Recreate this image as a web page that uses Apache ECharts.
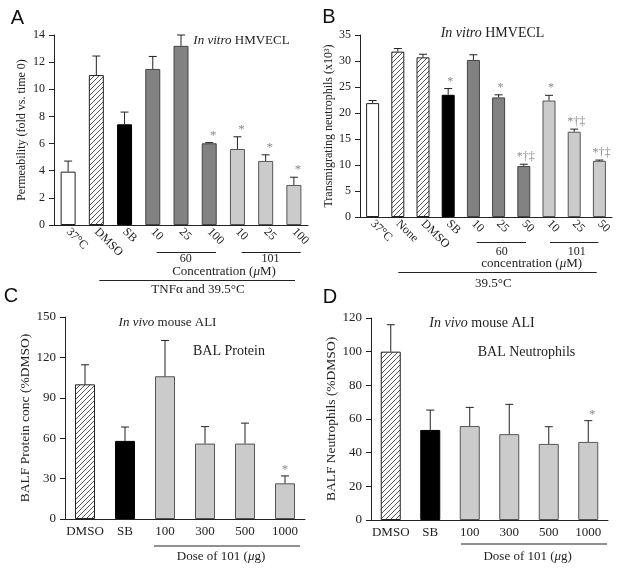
<!DOCTYPE html>
<html>
<head>
<meta charset="utf-8">
<script src="https://cdn.jsdelivr.net/npm/echarts@6/dist/echarts.min.js"></script>
<style>html,body{margin:0;padding:0;background:#fff;}#c{width:622px;height:573px;}</style>
</head>
<body>
<div id="c"></div>
<script>
// ---------- DATA ----------
const catsA = ['37°C', 'DMSO', 'SB', '10', '25', '100', '10', '25', '100'];
const valsA = [3.93, 11.05, 7.42, 11.5, 13.2, 6.02, 5.6, 4.72, 2.95];
const errA  = [0.78, 1.4, 0.9, 0.92, 0.8, 0.05, 0.9, 0.45, 0.57];
const marksA = ['', '', '', '', '', '*', '*', '*', '*'];

const catsB = ['37°C', 'None', 'DMSO', 'SB', '10', '25', '50', '10', '25', '50'];
const valsB = [21.9, 31.8, 30.7, 23.5, 30.2, 23.0, 9.8, 22.4, 16.4, 10.8];
const errB  = [0.5, 0.6, 0.6, 1.2, 1.0, 0.5, 0.35, 1.0, 0.5, 0.15];
const marksB = ['', '', '', '*', '', '*', '*†‡', '*', '*†‡', '*†‡'];

const catsC = ['DMSO', 'SB', '100', '300', '500', '1000'];
const valsC = [100, 58, 106, 56, 56, 26.5];
const errC  = [14.5, 10.3, 26.6, 12.6, 15.2, 5.5];
const marksC = ['', '', '', '', '', '*'];

const catsD = ['DMSO', 'SB', '100', '300', '500', '1000'];
const valsD = [100, 53.5, 55.8, 51, 45.2, 46.4];
const errD  = [16, 11.8, 11.1, 17.7, 10.2, 12.6];
const marksD = ['', '', '', '', '', '*'];

const ticksA = {min: 0, max: 14, interval: 2};
const ticksB = {min: 0, max: 35, interval: 5};
const ticksC = {min: 0, max: 150, interval: 30};
const ticksD = {min: 0, max: 120, interval: 20};

// ---------- STYLE ----------
const SERIF = '"Liberation Serif", "DejaVu Serif", serif';
const SANS = '"Liberation Sans", Arial, sans-serif';

function makeHatch() {
  const s = 5;
  const cv = document.createElement('canvas');
  cv.width = s; cv.height = s;
  const g = cv.getContext('2d');
  g.fillStyle = '#fff'; g.fillRect(0, 0, s, s);
  g.strokeStyle = '#444'; g.lineWidth = 0.9;
  g.beginPath();
  g.moveTo(-1, s + 1); g.lineTo(s + 1, -1);
  g.moveTo(-1, 1); g.lineTo(1, -1);
  g.moveTo(s - 1, s + 1); g.lineTo(s + 1, s - 1);
  g.stroke();
  return cv;
}
const hatch = {image: makeHatch(), repeat: 'repeat'};
const fills = {
  white: {color: '#ffffff', borderColor: '#222', borderWidth: 1},
  hatch: {color: hatch, borderColor: '#222', borderWidth: 1},
  black: {color: '#000000', borderColor: '#000', borderWidth: 1},
  dark:  {color: '#828282', borderColor: '#444', borderWidth: 1},
  light: {color: '#cbcbcb', borderColor: '#555', borderWidth: 1}
};
const kindsA = ['white', 'hatch', 'black', 'dark', 'dark', 'dark', 'light', 'light', 'light'];
const kindsB = ['white', 'hatch', 'hatch', 'black', 'dark', 'dark', 'dark', 'light', 'light', 'light'];
const kindsC = ['hatch', 'black', 'light', 'light', 'light', 'light'];
const kindsD = kindsC;

const grids = [
  {left: 54, top: 35, width: 254, height: 190},
  {left: 360, top: 35, width: 252, height: 182},
  {left: 65, top: 317, width: 240, height: 202},
  {left: 371, top: 318, width: 237, height: 202}
];

const panels = [
  {cats: catsA, vals: valsA, err: errA, marks: marksA, kinds: kindsA, ticks: ticksA, name: 'Permeability (fold vs. time 0)', nameGap: 26, nameSize: 12, labelSize: 12, rotate: -45, catSize: 12, barWidth: 15, cap: 4, markSize: 13, markDx: 4, markDy: -1},
  {cats: catsB, vals: valsB, err: errB, marks: marksB, kinds: kindsB, ticks: ticksB, name: 'Transmigrating neutrophils (x10³)', nameGap: 22, nameSize: 12, labelSize: 12, rotate: -45, catSize: 12, barWidth: 13, cap: 4, markSize: 12, markDx: 2, markDy: -1},
  {cats: catsC, vals: valsC, err: errC, marks: marksC, kinds: kindsC, ticks: ticksC, name: 'BALF Protein conc (%DMSO)', nameGap: 21, nameSize: 13.5, labelSize: 13, rotate: 0, catSize: 13, barWidth: 20, cap: 4, markSize: 13, markDx: 0, markDy: 0},
  {cats: catsD, vals: valsD, err: errD, marks: marksD, kinds: kindsD, ticks: ticksD, name: 'BALF Neutrophils (%DMSO)', nameGap: 21, nameSize: 13.5, labelSize: 13, rotate: 0, catSize: 13, barWidth: 20, cap: 4, markSize: 13, markDx: 4, markDy: 0}
];

const xAxes = [], yAxes = [], series = [];
panels.forEach((p, k) => {
  xAxes.push({
    type: 'category', gridIndex: k,
    data: p.cats.map((c, i) => i + '|' + c),
    axisLine: {show: true, lineStyle: {color: '#222', width: 1}},
    axisTick: {show: false},
    axisLabel: {
      interval: 0, rotate: p.rotate, margin: p.rotate ? 5 : 6,
      fontFamily: SERIF, fontSize: p.catSize, color: '#222',
      formatter: v => v.split('|')[1]
    }
  });
  yAxes.push({
    type: 'value', gridIndex: k,
    min: p.ticks.min, max: p.ticks.max, interval: p.ticks.interval,
    axisLine: {show: true, lineStyle: {color: '#222', width: 1}},
    axisTick: {show: true, length: 5, lineStyle: {color: '#222'}},
    splitLine: {show: false},
    axisLabel: {margin: 9, fontFamily: SERIF, fontSize: p.labelSize, color: '#222'},
    name: p.name, nameLocation: 'middle', nameGap: p.nameGap,
    nameTextStyle: {fontFamily: SERIF, fontSize: p.nameSize, color: '#222'}
  });
  series.push({
    type: 'bar', xAxisIndex: k, yAxisIndex: k,
    barWidth: p.barWidth,
    data: p.vals.map((v, i) => ({value: v, itemStyle: fills[p.kinds[i]]})),
    z: 2
  });
  series.push({
    type: 'custom', xAxisIndex: k, yAxisIndex: k, clip: false, z: 3,
    data: p.vals.map((v, i) => [i, v, v + p.err[i]]),
    renderItem: (params, api) => {
      const i = api.value(0);
      const b = api.coord([i, api.value(1)]);
      const t = api.coord([i, api.value(2)]);
      const ch = [
        {type: 'line', shape: {x1: b[0], y1: b[1], x2: t[0], y2: t[1]}, style: {stroke: '#222', lineWidth: 1}},
        {type: 'line', shape: {x1: t[0] - p.cap, y1: t[1], x2: t[0] + p.cap, y2: t[1]}, style: {stroke: '#222', lineWidth: 1}}
      ];
      const m = p.marks[params.dataIndex];
      if (m) ch.push({type: 'text', x: t[0] + p.markDx, y: t[1] + p.markDy,
        style: {text: m, fill: '#8a8a8a', font: p.markSize + 'px ' + SERIF, align: 'center', verticalAlign: 'bottom'}});
      return {type: 'group', children: ch};
    }
  });
});

// ---------- ANNOTATIONS ----------
function txt(x, y, text, size, extra) {
  return Object.assign({type: 'text', x: x, y: y, z: 10,
    style: {text: text, font: size + 'px ' + SERIF, fill: '#222', align: 'center', verticalAlign: 'middle'}}, extra || {});
}
function rtxt(x, y, text, size) {
  return {type: 'text', x: x, y: y, z: 10,
    style: {text: text, align: 'center', verticalAlign: 'middle', fill: '#222',
      rich: {i: {fontFamily: SERIF, fontStyle: 'italic', fontSize: size, fill: '#222'},
             n: {fontFamily: SERIF, fontSize: size, fill: '#222'}}}};
}
function hline(x1, x2, y) {
  return {type: 'line', z: 10, shape: {x1: x1, y1: y, x2: x2, y2: y}, style: {stroke: '#222', lineWidth: 1}};
}
function letter(x, y, t) {
  return {type: 'text', x: x, y: y, z: 10, style: {text: t, font: '20px ' + SANS, fill: '#111', align: 'center', verticalAlign: 'middle'}};
}
const graphic = [
  letter(17.5, 18.5, 'A'), letter(329, 17.5, 'B'), letter(11, 296, 'C'), letter(330, 297, 'D'),
  rtxt(241.5, 41, '{i|In vitro}{n| HMVECL}', 13),
  rtxt(492.5, 33.5, '{i|In vitro}{n| HMVECL}', 14),
  rtxt(167.5, 323, '{i|In vivo}{n| mouse ALI}', 13),
  txt(229, 351, 'BAL Protein', 14),
  rtxt(482, 323.5, '{i|In vivo}{n| mouse ALI}', 14),
  txt(526.5, 352, 'BAL Neutrophils', 14),
  // A brackets
  hline(156.7, 216, 252.5), txt(185.7, 259, '60', 12),
  hline(241.7, 300.7, 252.5), txt(270.5, 259, '101', 12),
  rtxt(224, 271.5, '{n|Concentration (}{i|μ}{n|M)}', 13),
  hline(99.3, 295, 280.5), txt(198, 290, 'TNFα and 39.5°C', 13),
  // B brackets
  hline(476.7, 526, 242.5), txt(501.7, 252, '60', 12),
  hline(550, 598.3, 242.5), txt(576.7, 252, '101', 12),
  rtxt(531.7, 263.5, '{n|concentration (}{i|μ}{n|M)}', 13),
  hline(398.3, 596.7, 272.5), txt(493.3, 284, '39.5°C', 13),
  // C / D brackets
  hline(154, 300, 546), rtxt(221, 557, '{n|Dose of 101 (}{i|μ}{n|g)}', 13),
  hline(461, 607, 544), rtxt(527.7, 557, '{n|Dose of 101 (}{i|μ}{n|g)}', 13)
];

const chart = echarts.init(document.getElementById('c'), null, {renderer: 'canvas'});
chart.setOption({
  animation: false,
  backgroundColor: '#ffffff',
  grid: grids,
  xAxis: xAxes,
  yAxis: yAxes,
  series: series,
  graphic: graphic
});
</script>
</body>
</html>
